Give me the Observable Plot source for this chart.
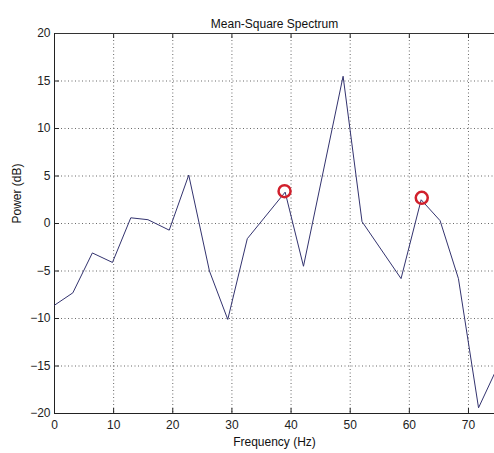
<!DOCTYPE html>
<html>
<head>
<meta charset="utf-8">
<script src="https://cdn.jsdelivr.net/npm/d3@7"></script>
<script src="https://cdn.jsdelivr.net/npm/@observablehq/plot@0.6"></script>
<style>
  html, body { margin: 0; padding: 0; background: #fff; }
  #chart svg { display: block; }
</style>
</head>
<body>
<div id="chart"></div>
<script>
const titleText = "Mean-Square Spectrum";
const xLabel = "Frequency (Hz)";
const yLabel = "Power (dB)";

const freq  = [0, 3.1, 6.4, 9.8, 12.9, 15.8, 19.4, 22.7, 26.2, 29.3, 32.6, 39.0, 42.1, 48.8, 52.0, 58.6, 62.0, 65.2, 68.3, 71.7, 74.4];
const power = [-8.6, -7.3, -3.1, -4.1, 0.6, 0.4, -0.7, 5.1, -5.0, -10.1, -1.6, 3.3, -4.5, 15.5, 0.2, -5.8, 2.5, 0.3, -5.8, -19.4, -15.8];

const peakFreq  = [38.9, 62.1];
const peakPower = [3.4, 2.7];

const xTicks = [0, 10, 20, 30, 40, 50, 60, 70];
const yTicks = [-20, -15, -10, -5, 0, 5, 10, 15, 20];

const data = freq.map((f, i) => ({f, p: power[i]}));
const peaks = peakFreq.map((f, i) => ({f, p: peakPower[i]}));

const gridX = xTicks.filter(t => t > 0);
const gridY = yTicks.filter(t => t > -20 && t < 20);

const font = "'Liberation Sans', Arial, sans-serif";

const chart = Plot.plot({
  width: 494,
  height: 453,
  marginTop: 33,
  marginLeft: 54,
  marginRight: 0,
  marginBottom: 40,
  style: {fontFamily: font, fontSize: "12px", color: "#222", background: "#fff"},
  x: {domain: [0, 74.4]},
  y: {domain: [-20, 20]},
  marks: [
    Plot.ruleX(gridX, {x: d => d, stroke: "#444", strokeWidth: 1, strokeDasharray: "1,2.5", strokeOpacity: 0.8}),
    Plot.ruleY(gridY, {y: d => d, stroke: "#444", strokeWidth: 1, strokeDasharray: "1,2.5", strokeOpacity: 0.8}),
    // inward ticks bottom & top
    Plot.tickX(gridX, {x: d => d, insetTop: 375, stroke: "#222"}),
    Plot.tickX(gridX, {x: d => d, insetBottom: 375, stroke: "#222"}),
    Plot.tickY(gridY, {y: d => d, insetRight: 435, stroke: "#222"}),
    // frame lines
    Plot.ruleY([20], {stroke: "#333", strokeWidth: 1}),
    Plot.ruleY([-20], {stroke: "#222", strokeWidth: 1}),
    Plot.ruleX([0], {stroke: "#222", strokeWidth: 1}),
    Plot.axisX(xTicks, {tickSize: 0, tickPadding: 7, fontSize: 12, fill: "#222", label: null}),
    Plot.axisY(yTicks, {tickSize: 0, tickPadding: 4, fontSize: 12, fill: "#222", label: null}),
    Plot.line(data, {x: "f", y: "p", stroke: "#33336f", strokeWidth: 1}),
    Plot.dot(peaks, {x: "f", y: "p", r: 6, stroke: "#d1202c", strokeWidth: 2.5, fill: "none"}),
    Plot.text([titleText], {frameAnchor: "top", dy: -14, fontSize: 12, fill: "#111"}),
    Plot.text([xLabel], {frameAnchor: "bottom", dy: 32, fontSize: 12, fill: "#111"}),
    Plot.text([yLabel], {frameAnchor: "left", dx: -37, rotate: -90, fontSize: 12, fill: "#111"})
  ]
});
document.getElementById("chart").appendChild(chart);
</script>
</body>
</html>
